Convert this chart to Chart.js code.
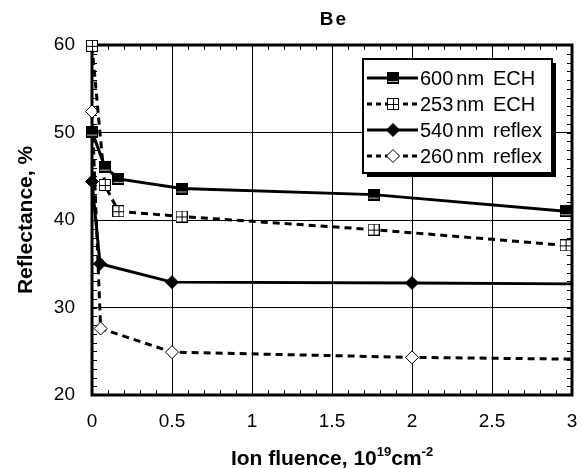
<!DOCTYPE html>
<html>
<head>
<meta charset="utf-8">
<script src="https://cdn.jsdelivr.net/npm/chart.js@4"></script>
<style>
  html, body { margin: 0; padding: 0; background: #fff; }
  #wrap { width: 582px; height: 468px; }
</style>
</head>
<body>
<div id="wrap"><canvas id="chart" width="582" height="468"></canvas></div>
<script>
const xTicks = [0, 0.5, 1, 1.5, 2, 2.5, 3];
const yTicks = [20, 30, 40, 50, 60];

const seriesLabels = ['600nm ECH', '253nm ECH', '540nm reflex', '260nm reflex'];

const ech600X = [0, 0.08, 0.165, 0.56, 1.76, 2.96];
const ech600Y = [50.1, 46.1, 44.7, 43.6, 42.9, 41.0];

const ech253X = [0, 0.08, 0.165, 0.56, 1.76, 2.96];
const ech253Y = [59.9, 44.0, 41.0, 40.4, 38.9, 37.1];

const refl540X = [0, 0.05, 0.5, 2.0, 3.0];
const refl540Y = [44.4, 35.0, 32.9, 32.8, 32.7];

const refl260X = [0, 0.054, 0.5, 2.0, 3.0];
const refl260Y = [52.4, 27.6, 24.9, 24.3, 24.1];

const FONT = "Arial, 'Liberation Sans', sans-serif";

function toPoints(xs, ys) {
    return xs.map((x, i) => ({ x: x, y: ys[i] }));
}

// marker images
function blackBox() {
    const c = document.createElement('canvas');
    c.width = 12; c.height = 12;
    const g = c.getContext('2d');
    g.fillStyle = '#000';
    g.fillRect(0, 0, 12, 12);
    g.fillStyle = '#bbb';
    g.fillRect(1, 9, 10, 1);
    return c;
}

function crossBox() {
    const c = document.createElement('canvas');
    c.width = 12; c.height = 12;
    const g = c.getContext('2d');
    g.fillStyle = '#fff';
    g.fillRect(0, 0, 12, 12);
    g.strokeStyle = '#000';
    g.lineWidth = 1;
    g.strokeRect(0.5, 0.5, 11, 11);
    g.beginPath();
    g.moveTo(6.5, 0); g.lineTo(6.5, 12);
    g.moveTo(0, 6.5); g.lineTo(12, 6.5);
    g.stroke();
    return c;
}

const sqFilled = blackBox();
const sqCross = crossBox();

// last point of the reflex series has no marker
const noLast = (n, r) => Array.from({ length: n }, (_, i) => i === n - 1 ? 0 : r);

const datasets = [
    {
        label: seriesLabels[0],
        data: toPoints(ech600X, ech600Y),
        borderDash: [],
        pointStyle: sqFilled,
        pointRadius: 6
    },
    {
        label: seriesLabels[1],
        data: toPoints(ech253X, ech253Y),
        borderDash: [7, 5],
        pointStyle: sqCross,
        pointRadius: 6
    },
    {
        label: seriesLabels[2],
        data: toPoints(refl540X, refl540Y),
        borderDash: [],
        pointStyle: 'rectRot',
        pointRadius: noLast(refl540X.length, 6.5),
        pointBackgroundColor: '#000'
    },
    {
        label: seriesLabels[3],
        data: toPoints(refl260X, refl260Y),
        borderDash: [7, 5],
        pointStyle: 'rectRot',
        pointRadius: noLast(refl260X.length, 6.5),
        pointBackgroundColor: '#fff'
    }
].map(d => Object.assign({
    showLine: true,
    borderColor: '#000',
    borderWidth: 3,
    pointBorderColor: '#000',
    pointBorderWidth: 1,
    pointHoverRadius: 0,
    tension: 0,
    clip: 12
}, d));

function drawMarker(ctx, ds, x, y) {
    if (typeof ds.pointStyle === 'object') {
        ctx.drawImage(ds.pointStyle, Math.round(x - 6), Math.round(y - 6));
        return;
    }
    const r = 6.5;
    ctx.beginPath();
    ctx.moveTo(x, y - r);
    ctx.lineTo(x + r, y);
    ctx.lineTo(x, y + r);
    ctx.lineTo(x - r, y);
    ctx.closePath();
    ctx.fillStyle = ds.pointBackgroundColor;
    ctx.fill();
    ctx.lineWidth = 1;
    ctx.strokeStyle = '#000';
    ctx.stroke();
}

const decor = {
    id: 'decor',
    beforeDatasetsDraw(chart) {
        const { ctx, chartArea: a, scales: { x, y } } = chart;
        ctx.save();
        ctx.strokeStyle = '#000';
        ctx.lineWidth = 1;
        ctx.beginPath();
        for (let i = 1; i < 30; i++) {
            const px = Math.round(x.getPixelForValue(i / 10)) + 0.5;
            ctx.moveTo(px, a.bottom); ctx.lineTo(px, a.bottom - 5);
            ctx.moveTo(px, a.top); ctx.lineTo(px, a.top + 5);
        }
        for (let v = 21; v < 60; v++) {
            const py = Math.round(y.getPixelForValue(v)) + 0.5;
            ctx.moveTo(a.left, py); ctx.lineTo(a.left + 5, py);
            ctx.moveTo(a.right, py); ctx.lineTo(a.right - 5, py);
        }
        ctx.stroke();
        ctx.lineWidth = 3;
        ctx.strokeRect(a.left, a.top, a.right - a.left, a.bottom - a.top);
        ctx.restore();
    },
    afterDraw(chart) {
        const { ctx, chartArea: a } = chart;
        const cx = (a.left + a.right) / 2;
        ctx.save();
        ctx.fillStyle = '#000';

        // title
        ctx.font = 'bold 19px ' + FONT;
        ctx.letterSpacing = '2px';
        ctx.textAlign = 'center';
        ctx.textBaseline = 'alphabetic';
        ctx.fillText('Be', cx + 2, 25);
        ctx.letterSpacing = '0px';

        // y title
        ctx.save();
        ctx.translate(32, (a.top + a.bottom) / 2);
        ctx.rotate(-Math.PI / 2);
        ctx.font = 'bold 21px ' + FONT;
        ctx.textAlign = 'center';
        ctx.fillText('Reflectance, %', 0, 0);
        ctx.restore();

        // x title with superscripts
        const parts = [
            { t: 'Ion fluence, 10', f: 'bold 21px ' + FONT, dy: 0 },
            { t: '19', f: 'bold 13px ' + FONT, dy: -9 },
            { t: 'cm', f: 'bold 21px ' + FONT, dy: 0 },
            { t: '-2', f: 'bold 13px ' + FONT, dy: -9 }
        ];
        let total = 0;
        parts.forEach(p => { ctx.font = p.f; p.w = ctx.measureText(p.t).width; total += p.w; });
        let px = cx - total / 2;
        const base = 465;
        ctx.textAlign = 'left';
        parts.forEach(p => { ctx.font = p.f; ctx.fillText(p.t, px, base + p.dy); px += p.w; });

        // legend box
        const L = 363, T = 59, W = 189, H = 114;
        ctx.fillStyle = '#000';
        ctx.fillRect(L + 4, T + 4, W, H);
        ctx.fillStyle = '#fff';
        ctx.fillRect(L, T, W, H);
        ctx.strokeStyle = '#000';
        ctx.lineWidth = 2;
        ctx.strokeRect(L, T, W, H);

        datasets.forEach((ds, i) => {
            const ry = T + 19 + i * 26;
            ctx.save();
            ctx.strokeStyle = '#000';
            ctx.lineWidth = 3;
            ctx.setLineDash(ds.borderDash.length ? [5, 4] : []);
            ctx.beginPath();
            ctx.moveTo(367, ry);
            ctx.lineTo(418, ry);
            ctx.stroke();
            ctx.setLineDash([]);
            drawMarker(ctx, ds, 393, ry);
            ctx.restore();

            const m = ds.label.match(/^(\d+)(nm)\s+(.*)$/);
            ctx.fillStyle = '#000';
            ctx.font = '20px ' + FONT;
            ctx.textAlign = 'left';
            ctx.textBaseline = 'middle';
            ctx.fillText(m[1], 420, ry + 1);
            const w1 = ctx.measureText(m[1]).width;
            ctx.fillText(m[2], 420 + w1 + 3, ry + 1);
            ctx.fillText(m[3], 493, ry + 1);
        });
        ctx.restore();
    }
};

new Chart(document.getElementById('chart'), {
    type: 'scatter',
    data: { datasets: datasets },
    options: {
        responsive: false,
        animation: false,
        devicePixelRatio: 1,
        layout: { padding: { top: 45, right: 10, left: 0, bottom: 0 } },
        plugins: {
            legend: { display: false },
            title: { display: false },
            tooltip: { enabled: false }
        },
        scales: {
            x: {
                type: 'linear',
                min: 0,
                max: 3,
                afterBuildTicks: s => { s.ticks = xTicks.map(v => ({ value: v })); },
                afterFit: s => { s.height = 73; s.paddingLeft = 0; s.paddingRight = 0; },
                grid: { color: '#000', lineWidth: 1, drawTicks: false },
                border: { display: false },
                ticks: {
                    color: '#000',
                    padding: 15,
                    maxRotation: 0,
                    font: { family: FONT, size: 19 },
                    callback: v => String(v)
                }
            },
            y: {
                type: 'linear',
                min: 20,
                max: 60,
                afterBuildTicks: s => { s.ticks = yTicks.map(v => ({ value: v })); },
                afterFit: s => { s.width = 92; s.paddingTop = 0; s.paddingBottom = 0; },
                grid: { color: '#000', lineWidth: 1, drawTicks: false },
                border: { display: false },
                ticks: { color: '#000', padding: 17, font: { family: FONT, size: 19 } }
            }
        }
    },
    plugins: [decor]
});
</script>
</body>
</html>
